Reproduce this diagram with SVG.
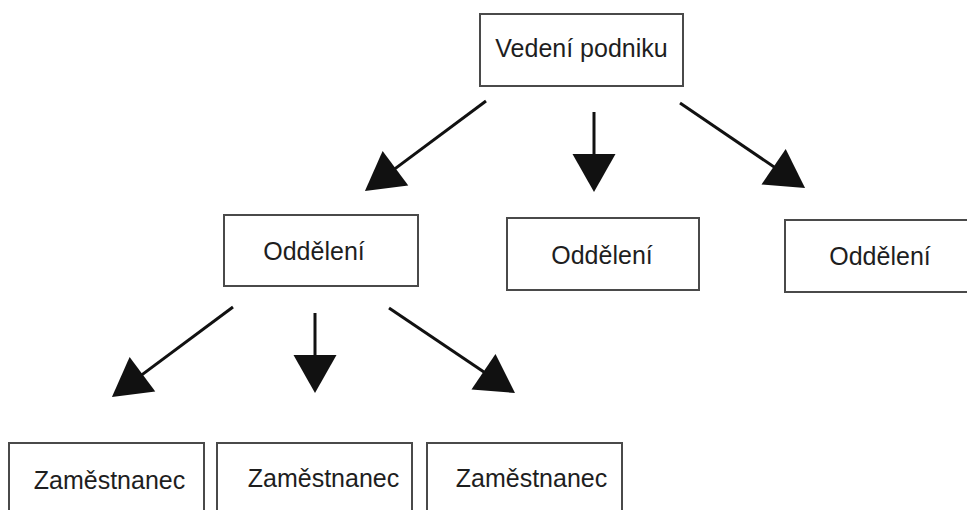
<svg xmlns="http://www.w3.org/2000/svg" width="967" height="510" viewBox="0 0 967 510">
  <style>
    .box { fill: #ffffff; stroke: #4a4a4a; stroke-width: 2; }
    .label { font-family: "Liberation Sans", Arial, sans-serif; font-size: 25px; fill: #1e1e1e; text-anchor: middle; }
    .link { stroke: #111111; stroke-width: 3; fill: none; marker-end: url(#head); }
  </style>
  <defs>
    <marker id="head" markerUnits="userSpaceOnUse" viewBox="0 0 38 43" refX="18" refY="21.5" markerWidth="38" markerHeight="43" orient="auto" overflow="visible">
      <path d="M0,0 L38,21.5 L0,43 Z" fill="#111111"/>
    </marker>
  </defs>
  <rect width="967" height="510" fill="#ffffff"/>

  <!-- management -->
  <g id="vedeni">
    <rect class="box" x="480" y="14" width="203" height="72"/>
    <text class="label" x="581.5" y="57">Vedení podniku</text>
  </g>

  <!-- departments -->
  <g id="oddeleni-1">
    <rect class="box" x="224" y="215" width="194" height="71"/>
    <text class="label" x="314" y="260">Oddělení</text>
  </g>
  <g id="oddeleni-2">
    <rect class="box" x="507" y="218" width="192" height="72"/>
    <text class="label" x="602" y="264">Oddělení</text>
  </g>
  <g id="oddeleni-3">
    <rect class="box" x="785" y="220" width="192" height="72"/>
    <text class="label" x="880" y="265">Oddělení</text>
  </g>

  <!-- employees -->
  <g id="zamestnanec-1">
    <rect class="box" x="9" y="443" width="195" height="80"/>
    <text class="label" x="109.5" y="489">Zaměstnanec</text>
  </g>
  <g id="zamestnanec-2">
    <rect class="box" x="217" y="443" width="195" height="80"/>
    <text class="label" x="323.5" y="487">Zaměstnanec</text>
  </g>
  <g id="zamestnanec-3">
    <rect class="box" x="427" y="443" width="195" height="80"/>
    <text class="label" x="531.5" y="487">Zaměstnanec</text>
  </g>

  <!-- connectors -->
  <g id="connectors">
    <line class="link" x1="486" y1="101" x2="381" y2="179.1"/>
    <line class="link" x1="594" y1="112" x2="594" y2="172"/>
    <line class="link" x1="680" y1="103" x2="788.5" y2="176.8"/>
    <line class="link" x1="233" y1="307" x2="128" y2="385.1"/>
    <line class="link" x1="315" y1="313" x2="315" y2="373"/>
    <line class="link" x1="389" y1="308" x2="498.4" y2="381.8"/>
  </g>
</svg>
